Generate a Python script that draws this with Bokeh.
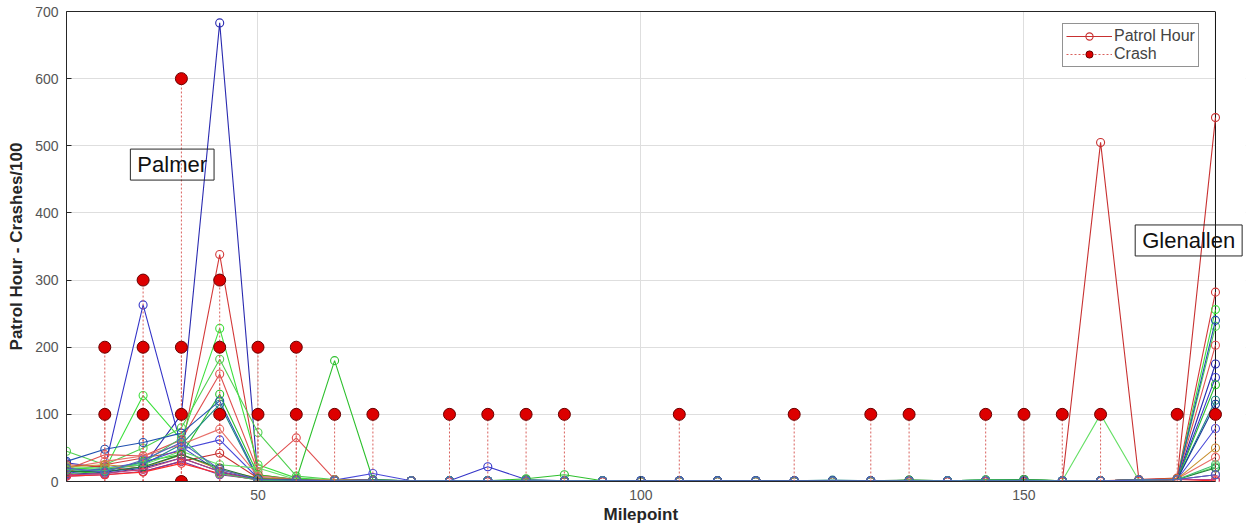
from bokeh.plotting import figure
from bokeh.models import (Range1d, FixedTicker, Label, Legend, LegendItem, LinearAxis,
                          Span, BoxAnnotation, Title)
from bokeh.embed import file_html
from bokeh.resources import INLINE

# ---------------- data ----------------
milepoints = [25, 30, 35, 40, 45, 50, 55, 60, 65, 70, 75, 80, 85, 90, 95, 100,
              105, 110, 115, 120, 125, 130, 135, 140, 145, 150, 155, 160, 165, 170, 175]

ph_01 = [10, 14, 22, 100, 683, 4, 3, 2, 1, 1, 0, 1, 0, 0, 0, 0, 0, 0, 0, 0, 0, 0, 0, 0, 0, 0, 0, 1, 2, 3, 175]
ph_02 = [28, 20, 263, 52, 14, 3, 2, 1, 2, 1, 1, 22, 3, 1, 1, 1, 1, 1, 1, 1, 1, 1, 1, 1, 1, 1, 1, 1, 2, 3, 155]
ph_03 = [15, 25, 35, 45, 338, 10, 3, 2, 1, 1, 0, 0, 0, 0, 0, 0, 0, 0, 0, 0, 0, 0, 0, 0, 0, 0, 0, 1, 2, 4, 282]
ph_04 = [20, 18, 128, 62, 228, 25, 5, 2, 1, 1, 1, 1, 2, 1, 0, 0, 0, 0, 0, 0, 0, 0, 0, 0, 0, 0, 0, 1, 2, 4, 256]
ph_05 = [45, 25, 50, 80, 182, 73, 8, 3, 2, 1, 1, 1, 1, 1, 0, 0, 0, 0, 0, 0, 0, 0, 0, 0, 0, 0, 0, 1, 2, 3, 231]
ph_06 = [18, 40, 38, 62, 160, 15, 65, 3, 2, 1, 0, 0, 0, 0, 0, 0, 0, 0, 0, 0, 0, 0, 0, 0, 0, 0, 0, 1, 3, 4, 203]
ph_07 = [12, 15, 30, 40, 130, 10, 3, 180, 3, 1, 1, 1, 4, 10, 1, 0, 0, 0, 0, 0, 0, 0, 2, 1, 2, 3, 1, 1, 2, 3, 144]
ph_08 = [30, 48, 58, 72, 120, 5, 3, 2, 2, 1, 1, 1, 1, 1, 1, 1, 1, 1, 1, 1, 1, 1, 1, 1, 1, 1, 1, 1, 2, 3, 240]
ph_09 = [15, 18, 25, 55, 115, 3, 2, 2, 1, 1, 1, 1, 1, 1, 1, 1, 1, 1, 1, 1, 2, 1, 1, 1, 2, 2, 1, 1, 2, 3, 121]
ph_10 = [20, 30, 38, 55, 78, 8, 3, 2, 1, 1, 0, 0, 0, 0, 0, 0, 0, 0, 0, 0, 0, 0, 0, 0, 0, 0, 0, 1, 2, 4, 36]
ph_11 = [12, 20, 28, 48, 62, 5, 3, 2, 12, 1, 1, 1, 1, 1, 1, 1, 1, 1, 1, 1, 1, 1, 1, 1, 1, 1, 1, 1, 2, 3, 79]
ph_12 = [25, 22, 15, 30, 42, 5, 3, 2, 1, 1, 0, 0, 0, 0, 0, 0, 0, 0, 0, 0, 0, 0, 0, 0, 0, 0, 0, 505, 3, 5, 542]
ph_13 = [22, 20, 25, 45, 25, 20, 3, 2, 1, 1, 1, 1, 1, 1, 1, 0, 0, 0, 0, 0, 0, 0, 1, 1, 2, 3, 1, 100, 2, 3, 22]
ph_14 = [22, 25, 20, 40, 18, 5, 3, 2, 1, 1, 0, 0, 0, 0, 0, 0, 0, 0, 0, 0, 0, 0, 0, 0, 0, 0, 0, 1, 2, 4, 50]
ph_15 = [8, 10, 15, 30, 10, 3, 1, 1, 1, 1, 1, 1, 1, 1, 1, 1, 1, 1, 1, 1, 1, 1, 1, 1, 1, 1, 1, 1, 2, 3, 10]
ph_16 = [10, 12, 20, 35, 15, 3, 2, 1, 1, 1, 1, 1, 1, 1, 1, 1, 1, 1, 1, 1, 1, 1, 1, 1, 1, 1, 1, 1, 2, 3, 115]
ph_17 = [8, 10, 14, 27, 12, 2, 1, 1, 1, 1, 0, 0, 0, 0, 0, 0, 0, 0, 0, 0, 0, 0, 0, 0, 0, 0, 0, 0, 1, 3, 1]
ph_18 = [15, 15, 22, 40, 20, 4, 2, 1, 1, 1, 1, 1, 1, 1, 1, 1, 1, 1, 1, 1, 1, 1, 2, 1, 2, 3, 1, 1, 2, 3, 20]
ph_19 = [10, 12, 18, 35, 15, 2, 1, 1, 1, 1, 0, 0, 0, 0, 0, 0, 0, 0, 0, 0, 0, 0, 0, 0, 0, 0, 0, 1, 2, 3, 3]
ph_20 = [18, 16, 28, 65, 12, 2, 1, 1, 1, 1, 1, 1, 1, 1, 1, 0, 0, 0, 0, 0, 0, 0, 1, 1, 2, 2, 1, 1, 2, 3, 25]
ph_21 = [20, 14, 32, 58, 18, 3, 2, 1, 1, 1, 1, 1, 1, 1, 1, 1, 1, 1, 1, 1, 1, 1, 1, 1, 1, 1, 1, 1, 2, 3, 10]

crash_mile = [30, 30, 35, 35, 35, 40, 40, 40, 40, 45, 45, 45, 50, 50, 55, 55, 60, 65,
              75, 80, 85, 90, 105, 120, 130, 135, 145, 150, 155, 160, 170, 175]
crash_val = [100, 200, 100, 200, 300, 0, 100, 200, 600, 100, 200, 300, 100, 200, 100, 200, 100, 100,
             100, 100, 100, 100, 100, 100, 100, 100, 100, 100, 100, 100, 100, 100]

y_ticks = [0, 100, 200, 300, 400, 500, 600, 700]
x_ticks = [50, 100, 150]

series = [ph_01, ph_02, ph_03, ph_04, ph_05, ph_06, ph_07, ph_08, ph_09, ph_10, ph_11,
          ph_12, ph_13, ph_14, ph_15, ph_16, ph_17, ph_18, ph_19, ph_20, ph_21]
colors = ["#2a2ab0", "#3535c8", "#d43a3a", "#3ee03e", "#50d050", "#e05050", "#2ec02e",
          "#2050b0", "#208888", "#e8706a", "#4848d8", "#c83030", "#66e066", "#c89030",
          "#7a3aa0", "#1a3a9a", "#ff2a2a", "#1f7a3a", "#c04080", "#40c070", "#5060c0"]

FONT = "Liberation Sans"
X_MIN, X_MAX = 25, 175          # axes box limits
X_VIEW_END = 178.92             # a little room right of the box for markers / label box

# ---------------- figure ----------------
p = figure(width=1247, height=529, output_backend="svg", toolbar_location=None,
           x_range=Range1d(X_MIN, X_VIEW_END), y_range=Range1d(0, 700),
           min_border_left=66, min_border_right=2, min_border_top=11, min_border_bottom=48,
           background_fill_color="white", border_fill_color="white")
p.outline_line_color = None

p.xaxis.ticker = FixedTicker(ticks=x_ticks)
p.yaxis.ticker = FixedTicker(ticks=y_ticks)
p.xgrid.ticker = FixedTicker(ticks=x_ticks)
p.ygrid.ticker = FixedTicker(ticks=y_ticks)
p.grid.grid_line_color = "#dedede"
p.grid.grid_line_width = 1

for ax in (p.xaxis[0], p.yaxis[0]):
    ax.major_tick_in = 5
    ax.major_tick_out = 0
    ax.minor_tick_in = 0
    ax.minor_tick_out = 0
    ax.axis_line_color = "#262626"
    ax.major_tick_line_color = "#262626"
    ax.major_label_text_font = FONT
    ax.major_label_text_font_size = "14px"
    ax.major_label_text_color = "#555555"
    ax.axis_label_text_font = FONT
    ax.axis_label_text_font_size = "17px"
    ax.axis_label_text_font_style = "bold"
    ax.axis_label_text_color = "#262626"

p.xaxis[0].bounds = (X_MIN, X_MAX)
p.xaxis[0].major_label_standoff = 8
p.yaxis[0].axis_label = "Patrol Hour - Crashes/100"
p.yaxis[0].major_label_standoff = 8
p.yaxis[0].axis_label_standoff = 6

# x-axis title, centred under the axes box (not under the wider view)
p.add_layout(Title(text="Milepoint", align="left", offset=537, standoff=0,
                   text_font=FONT, text_font_size="17px", text_font_style="bold",
                   text_color="#262626"), "below")

# top edge of the axes box
top_ax = LinearAxis(ticker=FixedTicker(ticks=[]), bounds=(X_MIN, X_MAX),
                    axis_line_color="#262626", major_tick_in=0, major_tick_out=0,
                    minor_tick_in=0, minor_tick_out=0, major_label_standoff=0)
p.add_layout(top_ax, "above")

# blank out grid right of the box
p.add_layout(BoxAnnotation(left=X_MAX, fill_color="white", fill_alpha=1,
                           line_color=None, level="underlay"))
# right edge of the axes box
p.add_layout(Span(location=X_MAX, dimension="height", line_color="#111111",
                  line_width=1, level="underlay"))

# ---------------- patrol hour series ----------------
legend_line = None
legend_marker = None
for vals, c in zip(series, colors):
    lr = p.line(milepoints, vals, line_color=c, line_width=1.1)
    sr = p.scatter(milepoints, vals, marker="circle", size=8, fill_color=None,
                   line_color=c, line_width=1.1)
    if vals is ph_12:
        legend_line, legend_marker = lr, sr

# ---------------- crash stems ----------------
stems = p.segment(x0=crash_mile, y0=[0] * len(crash_mile), x1=crash_mile, y1=crash_val,
                  line_color="#d9605c", line_width=1, line_dash="2 2")
dots = p.scatter(crash_mile, crash_val, marker="circle", size=12, fill_color="#dd0000",
                 line_color="#6a0000", line_width=1)

# ---------------- annotations ----------------
def boxed(x, y, txt):
    lbl = Label(x=x, y=y, text=txt, text_align="center", text_baseline="middle",
                text_font=FONT, text_font_size="22px", text_color="#111111",
                border_line_color="#262626", border_line_width=1,
                background_fill_color=None, level="overlay")
    try:
        lbl.padding = dict(left=7, right=7, top=3, bottom=3)
    except Exception:
        lbl.padding = 5
    p.add_layout(lbl)

boxed(38.8, 472, "Palmer")
boxed(171.5, 359, "Glenallen")

legend = Legend(items=[LegendItem(label="Patrol Hour", renderers=[legend_line, legend_marker]),
                       LegendItem(label="Crash", renderers=[stems, dots])],
                location=(996, 414), margin=0, padding=3, spacing=0,
                label_height=18, glyph_height=18, glyph_width=46, label_standoff=2,
                label_text_font=FONT, label_text_font_size="16px",
                border_line_color="#262626", border_line_width=1,
                background_fill_color="white", background_fill_alpha=1)
p.add_layout(legend)

open("out.html", "w").write(file_html(p, INLINE))
